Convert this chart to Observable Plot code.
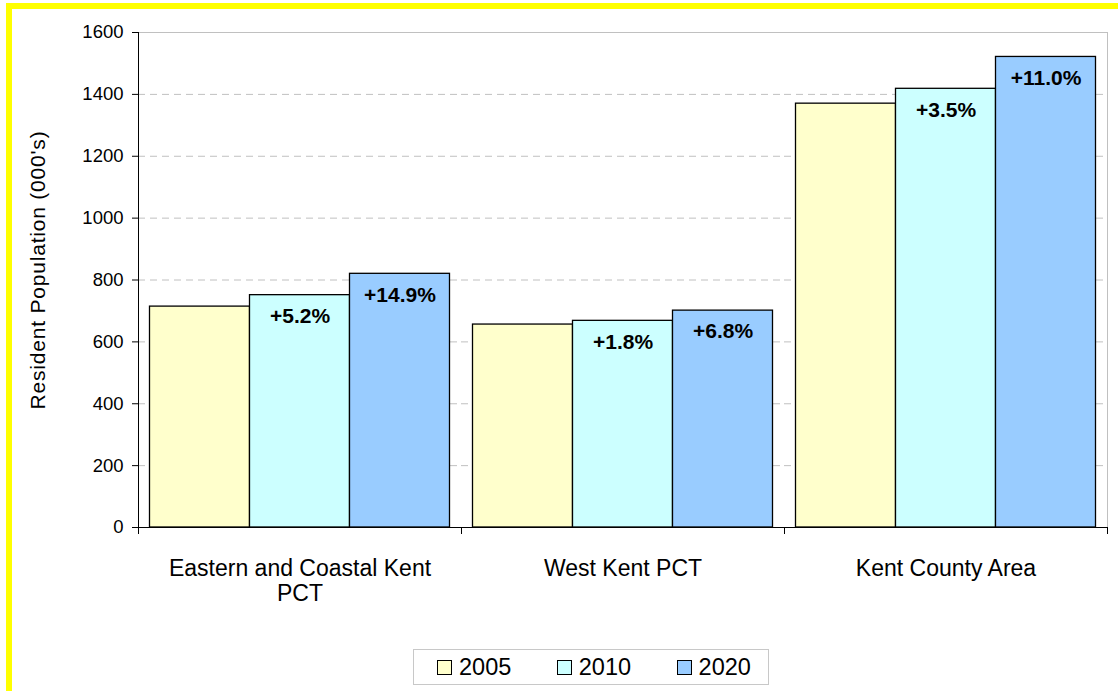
<!DOCTYPE html>
<html>
<head>
<meta charset="utf-8">
<script src="https://cdn.jsdelivr.net/npm/d3@7"></script>
<script src="https://cdn.jsdelivr.net/npm/@observablehq/plot@0.6"></script>
<style>
  html, body { margin: 0; padding: 0; background: #fff; overflow: hidden; }
  #wrap { position: relative; width: 1118px; height: 691px; font-family: "Liberation Sans", Arial, sans-serif; }
  #chart { position: absolute; left: 0; top: 0; }
  .yellow { position: absolute; background: #ffff00; }
  #ylabel { position: absolute; left: 38px; top: 270px; transform: translate(-50%, -50%) rotate(-90deg);
            white-space: nowrap; font-size: 21px; letter-spacing: 0.8px; color: #000; }
  #legend { position: absolute; left: 413px; top: 649px; width: 356px; height: 34px; border: 1px solid #c8c8c8;
            display: flex; align-items: center; box-sizing: border-box; height: 36px; padding-left: 23px; background: #fff; }
  .item { display: flex; align-items: center; margin-right: 45.5px; font-size: 23.5px; color: #000; }
  .item:last-child { margin-right: 0; }
  .sw { width: 13px; height: 13px; border: 1px solid #000; margin-right: 7px; }
</style>
</head>
<body>
<div id="wrap">
  <div id="chart"></div>
  <div id="ylabel"></div>
  <div id="legend"></div>
  <div class="yellow" style="left:6px; top:3px; width:1112px; height:6px;"></div>
  <div class="yellow" style="left:6px; top:3px; width:6px; height:688px;"></div>
</div>
<script>
// ---- data ----
const categories = ["Eastern and Coastal Kent PCT", "West Kent PCT", "Kent County Area"];
const years = ["2005", "2010", "2020"];
const values2005 = [714, 656, 1370];
const values2010 = [751, 668, 1418];
const values2020 = [820, 701, 1521];
const change2010 = ["+5.2%", "+1.8%", "+3.5%"];
const change2020 = ["+14.9%", "+6.8%", "+11.0%"];
const yTicks = [0, 200, 400, 600, 800, 1000, 1200, 1400, 1600];
const yLabel = "Resident Population (000's)";
const colors = ["#ffffcc", "#ccffff", "#99ccff"];

// ---- tables ----
const series = [values2005, values2010, values2020];
const rows = [];
categories.forEach((c, i) => years.forEach((yr, j) => rows.push({category: c, year: yr, value: series[j][i]})));
const labels = [];
categories.forEach((c, i) => {
  labels.push({category: c, year: "2010", value: values2010[i], text: change2010[i]});
  labels.push({category: c, year: "2020", value: values2020[i], text: change2020[i]});
});
const yMax = yTicks[yTicks.length - 1];
const gridTicks = yTicks.filter(t => t > 0 && t < yMax);

function wrap(s, maxChars = 24) {
  const words = s.split(" "); const lines = []; let cur = "";
  for (const w of words) {
    if (cur && (cur + " " + w).length > maxChars) { lines.push(cur); cur = w; }
    else cur = cur ? cur + " " + w : w;
  }
  if (cur) lines.push(cur);
  return lines.join("\n");
}

const chart = Plot.plot({
  width: 1118,
  height: 620,
  marginLeft: 137,
  marginRight: 10,
  marginTop: 32,
  marginBottom: 93,
  style: {fontFamily: "'Liberation Sans', Arial, sans-serif", background: "transparent", color: "#000"},
  fx: {domain: categories, padding: 0},
  x: {type: "band", domain: years, paddingInner: 0, paddingOuter: 0.115, axis: null, round: false},
  y: {domain: [0, yMax]},
  color: {domain: years, range: colors},
  marks: [
    Plot.gridY({ticks: gridTicks, stroke: "#c0c0c0", strokeOpacity: 1, strokeDasharray: "7,5"}),
    Plot.ruleY([yMax], {stroke: "#c0c0c0"}),
    Plot.barY(rows, {fx: "category", x: "year", y: "value", fill: "year", stroke: "#000", strokeWidth: 1.3}),
    Plot.text(labels, {fx: "category", x: "year", y: "value", text: "text", dy: 21, fontWeight: "bold", fontSize: 21, fill: "#000"}),
    Plot.ruleY([0], {stroke: "#000"}),
    Plot.axisY({ticks: yTicks, tickSize: 6, tickPadding: 9, fontSize: 18.5, tickFormat: "d", label: null}),
    Plot.axisFx({anchor: "bottom", tickSize: 0, tickPadding: 31, fontSize: 23, lineHeight: 1.07, label: null, tickFormat: d => wrap(d)})
  ]
});
document.getElementById("chart").appendChild(chart);

// axis line, category boundary ticks and right border from the plot's own scales
const fx = chart.scale("fx");
const ys = chart.scale("y");
const svg = d3.select(chart);
const y0 = ys.apply(0), yTop = ys.apply(yMax);
const edges = categories.map(c => fx.apply(c));
const xRight = fx.apply(categories[categories.length - 1]) + fx.bandwidth;
svg.append("line").attr("x1", xRight + 0.5).attr("x2", xRight + 0.5).attr("y1", yTop).attr("y2", y0)
  .attr("stroke", "#c0c0c0");
edges.concat([xRight]).forEach(x => {
  svg.append("line").attr("x1", x + 0.5).attr("x2", x + 0.5).attr("y1", y0).attr("y2", y0 + 7).attr("stroke", "#000");
});
svg.append("line").attr("x1", edges[0] + 0.5).attr("x2", edges[0] + 0.5).attr("y1", yTop).attr("y2", y0 + 7).attr("stroke", "#000");

document.getElementById("ylabel").textContent = yLabel;
const legend = document.getElementById("legend");
years.forEach((yr, i) => {
  const it = document.createElement("div"); it.className = "item";
  const sw = document.createElement("div"); sw.className = "sw"; sw.style.background = colors[i];
  const tx = document.createElement("span"); tx.textContent = yr;
  it.appendChild(sw); it.appendChild(tx); legend.appendChild(it);
});
</script>
</body>
</html>
